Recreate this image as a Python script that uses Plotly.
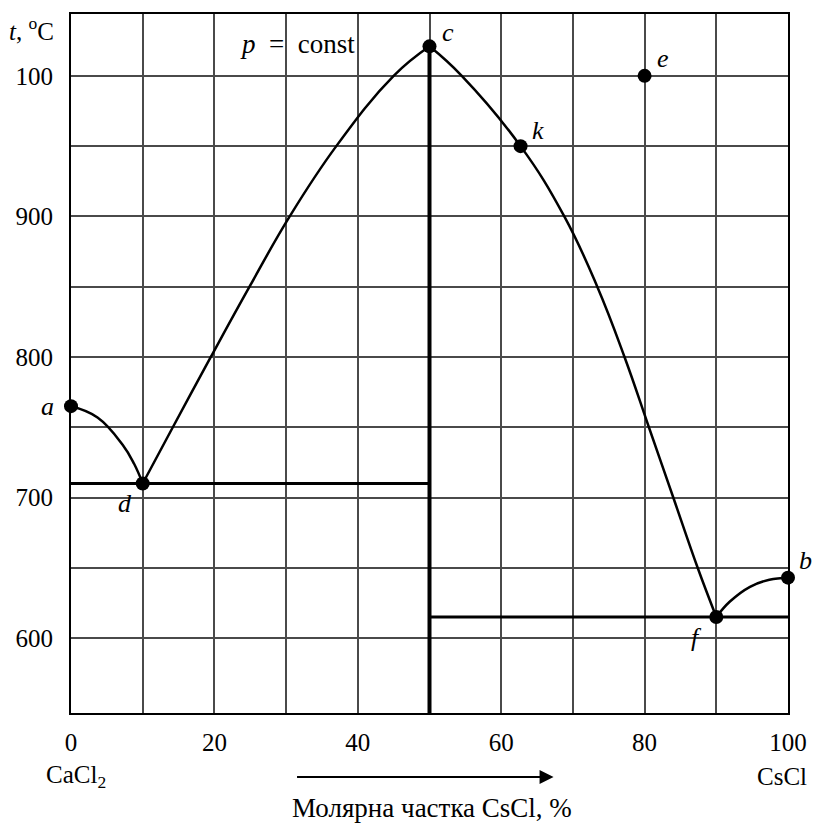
import plotly.graph_objects as go

# Phase diagram CaCl2 - CsCl (molar fraction of CsCl, %; temperature, °C)
# Liquidus branches
ad_x = [0, 3.7, 7.2, 8.8, 10]
ad_y = [765, 757, 737.5, 724, 710]

dc_x = [10, 14.2, 19.5, 24.9, 30.5, 37.0, 45.0, 50]
dc_y = [710, 750, 800, 850, 900, 950, 1000, 1021]

cf_x = [50, 54.5, 62.7, 68.8, 73.4, 77.2, 80.6, 84.0, 87.4, 90]
cf_y = [1021, 1000, 950, 900, 850, 800, 750, 700, 650, 615]

fb_x = [90, 91.9, 94.7, 97.4, 100]
fb_y = [615, 626, 636.5, 641.5, 643]

# Eutectic horizontals and the compound line
eut1_x = [0, 50]
eut1_y = [710, 710]
eut2_x = [50, 100]
eut2_y = [615, 615]
compound_x = [50, 50]
compound_y = [546.7, 1021]

# Labelled points
pt_names = ["a", "d", "c", "k", "e", "f", "b"]
pt_x = [0, 10, 50, 62.7, 80, 90, 100]
pt_y = [765, 710, 1021, 950, 1000, 615, 643]
pt_dx = [-24, -18, 18, 17, 18, -20, 17]
pt_dy = [0, -20, 14, 16, 17, -20, 17]

# Axes
x_ticks = [0, 20, 40, 60, 80, 100]
x_labels = ["0", "20", "40", "60", "80", "100"]
x_minor = [10, 30, 50, 70, 90]
y_ticks = [600, 700, 800, 900, 1000]
y_labels = ["600", "700", "800", "900", "100"]
y_minor = [650, 750, 850, 950]

FONT = "Liberation Serif, Times New Roman, serif"
INK = "#000000"
GRID = "#4a4a4a"

fig = go.Figure()

for xs, ys in [(ad_x, ad_y), (dc_x, dc_y), (cf_x, cf_y), (fb_x, fb_y)]:
    fig.add_trace(go.Scatter(x=xs, y=ys, mode="lines",
                             line=dict(color=INK, width=2.5, shape="spline", smoothing=1.2),
                             hoverinfo="skip", showlegend=False))

for xs, ys, w in [(eut1_x, eut1_y, 3), (eut2_x, eut2_y, 3), (compound_x, compound_y, 4)]:
    fig.add_trace(go.Scatter(x=xs, y=ys, mode="lines",
                             line=dict(color=INK, width=w),
                             hoverinfo="skip", showlegend=False))

fig.add_trace(go.Scatter(x=pt_x, y=pt_y, mode="markers",
                         marker=dict(color=INK, size=14),
                         cliponaxis=False, hoverinfo="skip", showlegend=False))

for n, x, y, dx, dy in zip(pt_names, pt_x, pt_y, pt_dx, pt_dy):
    fig.add_annotation(x=x, y=y, text=f"<i>{n}</i>", showarrow=False,
                       xshift=dx, yshift=dy,
                       font=dict(family=FONT, size=26, color=INK))

fig.add_annotation(x=0.316, y=0.957, xref="paper", yref="paper",
                   xanchor="center", yanchor="middle",
                   text="<i>p</i>  =  const", showarrow=False,
                   font=dict(family=FONT, size=27, color=INK))

# Temperature axis title
fig.add_annotation(x=-0.089, y=0.979, xref="paper", yref="paper",
                   xanchor="left", yanchor="middle",
                   text="<i>t</i>, <sup>o</sup>C", showarrow=False,
                   font=dict(family=FONT, size=25, color=INK))

# Components and composition arrow
fig.add_annotation(x=0.007, y=-0.091, xref="paper", yref="paper",
                   xanchor="center", yanchor="middle",
                   text="CaCl<sub>2</sub>", showarrow=False,
                   font=dict(family=FONT, size=25, color=INK))
fig.add_annotation(x=1.0, y=-0.091, xref="paper", yref="paper",
                   xanchor="left", yanchor="middle", xshift=-33,
                   text="CsCl", showarrow=False,
                   font=dict(family=FONT, size=25, color=INK))
fig.add_annotation(x=0.673, y=-0.0914, xref="paper", yref="paper",
                   ax=-258, ay=0, text="", showarrow=True,
                   arrowhead=2, arrowsize=1.4, arrowwidth=2, arrowcolor=INK)
fig.add_annotation(x=0.503, y=-0.136, xref="paper", yref="paper",
                   xanchor="center", yanchor="middle",
                   text="Молярна частка CsCl, %", showarrow=False,
                   font=dict(family=FONT, size=27, color=INK))

axis_common = dict(showgrid=True, gridcolor=GRID, gridwidth=2,
                   showline=True, linecolor=INK, linewidth=2, mirror=True,
                   ticks="outside", tickcolor="rgba(0,0,0,0)",
                   zeroline=False, tickfont=dict(family=FONT, size=25, color=INK))

fig.update_xaxes(range=[0, 100], tickvals=x_ticks, ticktext=x_labels, ticklen=6,
                 minor=dict(tickvals=x_minor, showgrid=True, gridcolor=GRID,
                            gridwidth=2, ticks=""),
                 **axis_common)
fig.update_yaxes(range=[546.7, 1044.0], tickvals=y_ticks, ticktext=y_labels, ticklen=11,
                 minor=dict(tickvals=y_minor, showgrid=True, gridcolor=GRID,
                            gridwidth=2, ticks=""),
                 **axis_common)

fig.update_layout(width=819, height=829,
                  margin=dict(l=71, r=29, t=13, b=116),
                  paper_bgcolor="white", plot_bgcolor="white",
                  font=dict(family=FONT, color=INK))

fig.write_html("out.html")
